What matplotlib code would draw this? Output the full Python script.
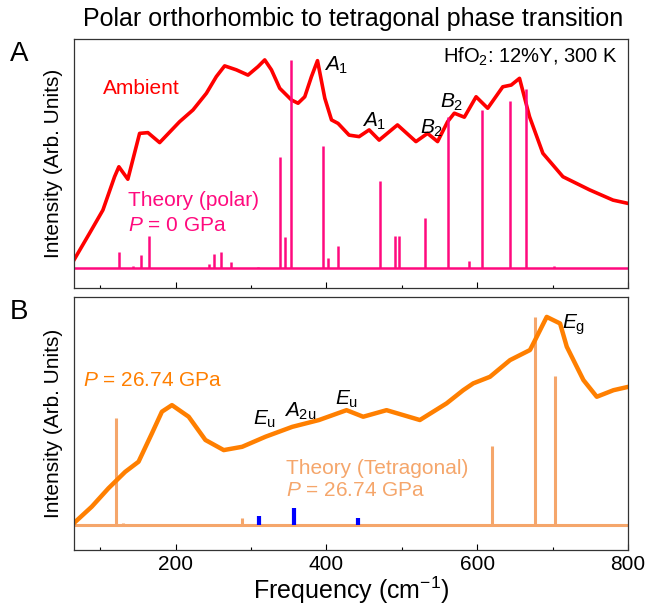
import matplotlib.pyplot as plt

plt.rcParams['font.family'] = ['Liberation Sans', 'DejaVu Sans']
plt.rcParams['mathtext.fontset'] = 'custom'
plt.rcParams['mathtext.rm'] = 'Liberation Sans'
plt.rcParams['mathtext.it'] = 'Liberation Sans:italic'

# Panel A: ambient Raman spectrum
amb_freq = [65, 85.8, 103.5, 119, 124.7, 136.6, 152.2, 163.2, 178.8, 205.3, 223, 240.8,
            254, 265, 280.6, 296, 309.3, 318.2, 327.1, 338.1, 353.7, 362.4, 371.3,
            380.2, 388.2, 397.9, 406.8, 415.5, 430.1, 443.4, 456.7, 470, 494.3, 518.8,
            534.2, 547.5, 560.8, 569.7, 583, 598.6, 614, 634, 645.2, 656.2, 669.5,
            687.2, 713.8, 749.3, 780.3, 800]
amb_int = [11.2, 22, 31.3, 44.7, 48.7, 43.7, 62.1, 62.4, 58.4, 66.8, 71.5, 78.2,
           84.9, 89.2, 87.6, 85.5, 88.9, 91.6, 87.6, 80.2, 75.5, 74.2, 76.8,
           84.9, 91.3, 76.2, 67.5, 66.1, 61.4, 60.8, 63.5, 59.4, 65.5, 58.8,
           62.1, 58.8, 66.8, 70.2, 68.6, 76.8, 72.2, 80.8, 81.5, 84.2, 68.8,
           54.1, 44.7, 39.4, 35.3, 34.0]

# Panel A: theory (polar) mode positions and heights
polar_freq = [125.1, 142.8, 153.8, 165, 243.9, 250.5, 260.8, 274, 309.5, 337.9, 344.6,
              353.5, 395.5, 402.2, 415.9, 470.9, 490.9, 496.6, 531.2, 561.8, 589.7,
              606.6, 643.8, 664.2, 701.4]
polar_h = [6.4, 0.7, 5.1, 12.7, 1.4, 5.5, 6.2, 2.4, 0.4, 44.3, 12.2,
           83.4, 48.9, 3.8, 8.7, 34.9, 12.9, 12.9, 20.1, 60.4, 2.8,
           63.1, 66.7, 71.6, 0.6]
polar_base = 8.2

# Panel B: spectrum at 26.74 GPa
hp_freq = [65, 88.7, 110.9, 133.1, 150.8, 168.5, 181.8, 195.1, 217.3, 239.5, 263.8,
           288.2, 319.3, 354.7, 390.2, 426.7, 448.8, 479.8, 524, 559.5, 581.5, 594.8,
           617, 643.6, 670.1, 676.8, 692.3, 710, 718.9, 732.1, 741, 758.7, 780.8, 800]
hp_int = [10.6, 17.1, 24.4, 30.9, 34.9, 46.1, 54.7, 57.3, 52.7, 43.5, 39.5,
          40.8, 44.8, 48.7, 51.4, 55.3, 52.7, 55.3, 51.4, 58, 63.2, 65.9,
          68.5, 75.1, 79.1, 83, 92.2, 89.6, 80.4, 72.5, 67.2, 60.6, 63.2, 64.5]

# Panel B: theory (tetragonal) modes
tet_freq = [120.6, 130.8, 288.2, 619.4, 676.1, 703.1]
tet_h = [42.2, 0.8, 2.6, 31.2, 82.1, 58.9]
ir_freq = [310.4, 356.9, 441.5]
ir_h = [3.6, 6.8, 2.6]
tet_base = 9.9

red = '#FF0000'
pink = '#FF0A7E'
orange = '#FF7F00'
light = '#F5A66B'
blue = '#0000FF'

fig = plt.figure(figsize=(6.48, 6.09), dpi=100)
ax1 = fig.add_axes([0.114, 0.527, 0.855, 0.409])
ax2 = fig.add_axes([0.114, 0.097, 0.855, 0.415])

# panel A
ax1.plot(amb_freq, amb_int, color=red, lw=2.6)
ax1.axhline(polar_base, color=pink, lw=1.8)
ax1.vlines(polar_freq, polar_base, [polar_base + h for h in polar_h], color=pink, lw=1.8)

# panel B
ax2.axhline(tet_base, color=light, lw=2.2)
ax2.vlines(tet_freq, tet_base, [tet_base + h for h in tet_h], color=light, lw=2.2)
ax2.vlines(ir_freq, tet_base, [tet_base + h for h in ir_h], color=blue, lw=3)
ax2.plot(hp_freq, hp_int, color=orange, lw=3.2)

for ax in (ax1, ax2):
    ax.set_xlim(65, 800)
    ax.set_ylim(0, 100)
    ax.set_yticks([])
    ax.set_xticks([200, 400, 600, 800])
    ax.set_xticks([100, 300, 500, 700], minor=True)
    ax.tick_params(axis='x', which='major', direction='in', length=4, width=0.8, labelsize=15, pad=4)
    ax.tick_params(axis='x', which='minor', direction='in', length=2.5, width=0.8)
    for s in ax.spines.values():
        s.set_color('#333333')
        s.set_linewidth(0.9)
    ax.set_ylabel('Intensity (Arb. Units)', fontsize=15, labelpad=8)

ax1.tick_params(axis='x', labelbottom=False)
ax2.set_xlabel('Frequency (cm$^{-1}$)', fontsize=18, labelpad=0)

fs = 15
ax1.text(103, 80.3, 'Ambient', color=red, fontsize=fs, va='center')
ax1.text(136.7, 35.1, 'Theory (polar)', color=pink, fontsize=fs, va='center')
ax1.text(136.7, 25.3, r'$\mathit{P}$ = 0 GPa', color=pink, fontsize=fs, va='center')
ax1.text(396.5, 89.5, r'$\mathit{A}_{1}$', fontsize=fs, va='center')
ax1.text(446.6, 67, r'$\mathit{A}_{1}$', fontsize=fs, va='center')
ax1.text(524, 64.3, r'$\mathit{B}_{2}$', fontsize=fs, va='center')
ax1.text(550.6, 74.4, r'$\mathit{B}_{2}$', fontsize=fs, va='center')
ax1.text(787, 92.7, r'HfO$_{2}$: 12%Y, 300 K', fontsize=14.5, va='center', ha='right')

ax2.text(76.9, 67.2, r'$\mathit{P}$ = 26.74 GPa', color=orange, fontsize=fs, va='center')
ax2.text(302.7, 51.6, r'$\mathit{E}_{\mathrm{u}}$', fontsize=fs, va='center')
ax2.text(343.4, 54.8, r'$\mathit{A}_{\mathrm{2u}}$', fontsize=fs, va='center')
ax2.text(411.2, 59.5, r'$\mathit{E}_{\mathrm{u}}$', fontsize=fs, va='center')
ax2.text(712.2, 89.1, r'$\mathit{E}_{\mathrm{g}}$', fontsize=fs, va='center')
ax2.text(347, 32.3, 'Theory (Tetragonal)', color=light, fontsize=fs, va='center')
ax2.text(347, 23.4, r'$\mathit{P}$ = 26.74 GPa', color=light, fontsize=fs, va='center')

fig.text(0.545, 0.968, 'Polar orthorhombic to tetragonal phase transition',
         ha='center', va='center', fontsize=18)
fig.text(0.029, 0.912, 'A', ha='center', va='center', fontsize=20)
fig.text(0.029, 0.487, 'B', ha='center', va='center', fontsize=20)

fig.savefig('out.png', dpi=100)
